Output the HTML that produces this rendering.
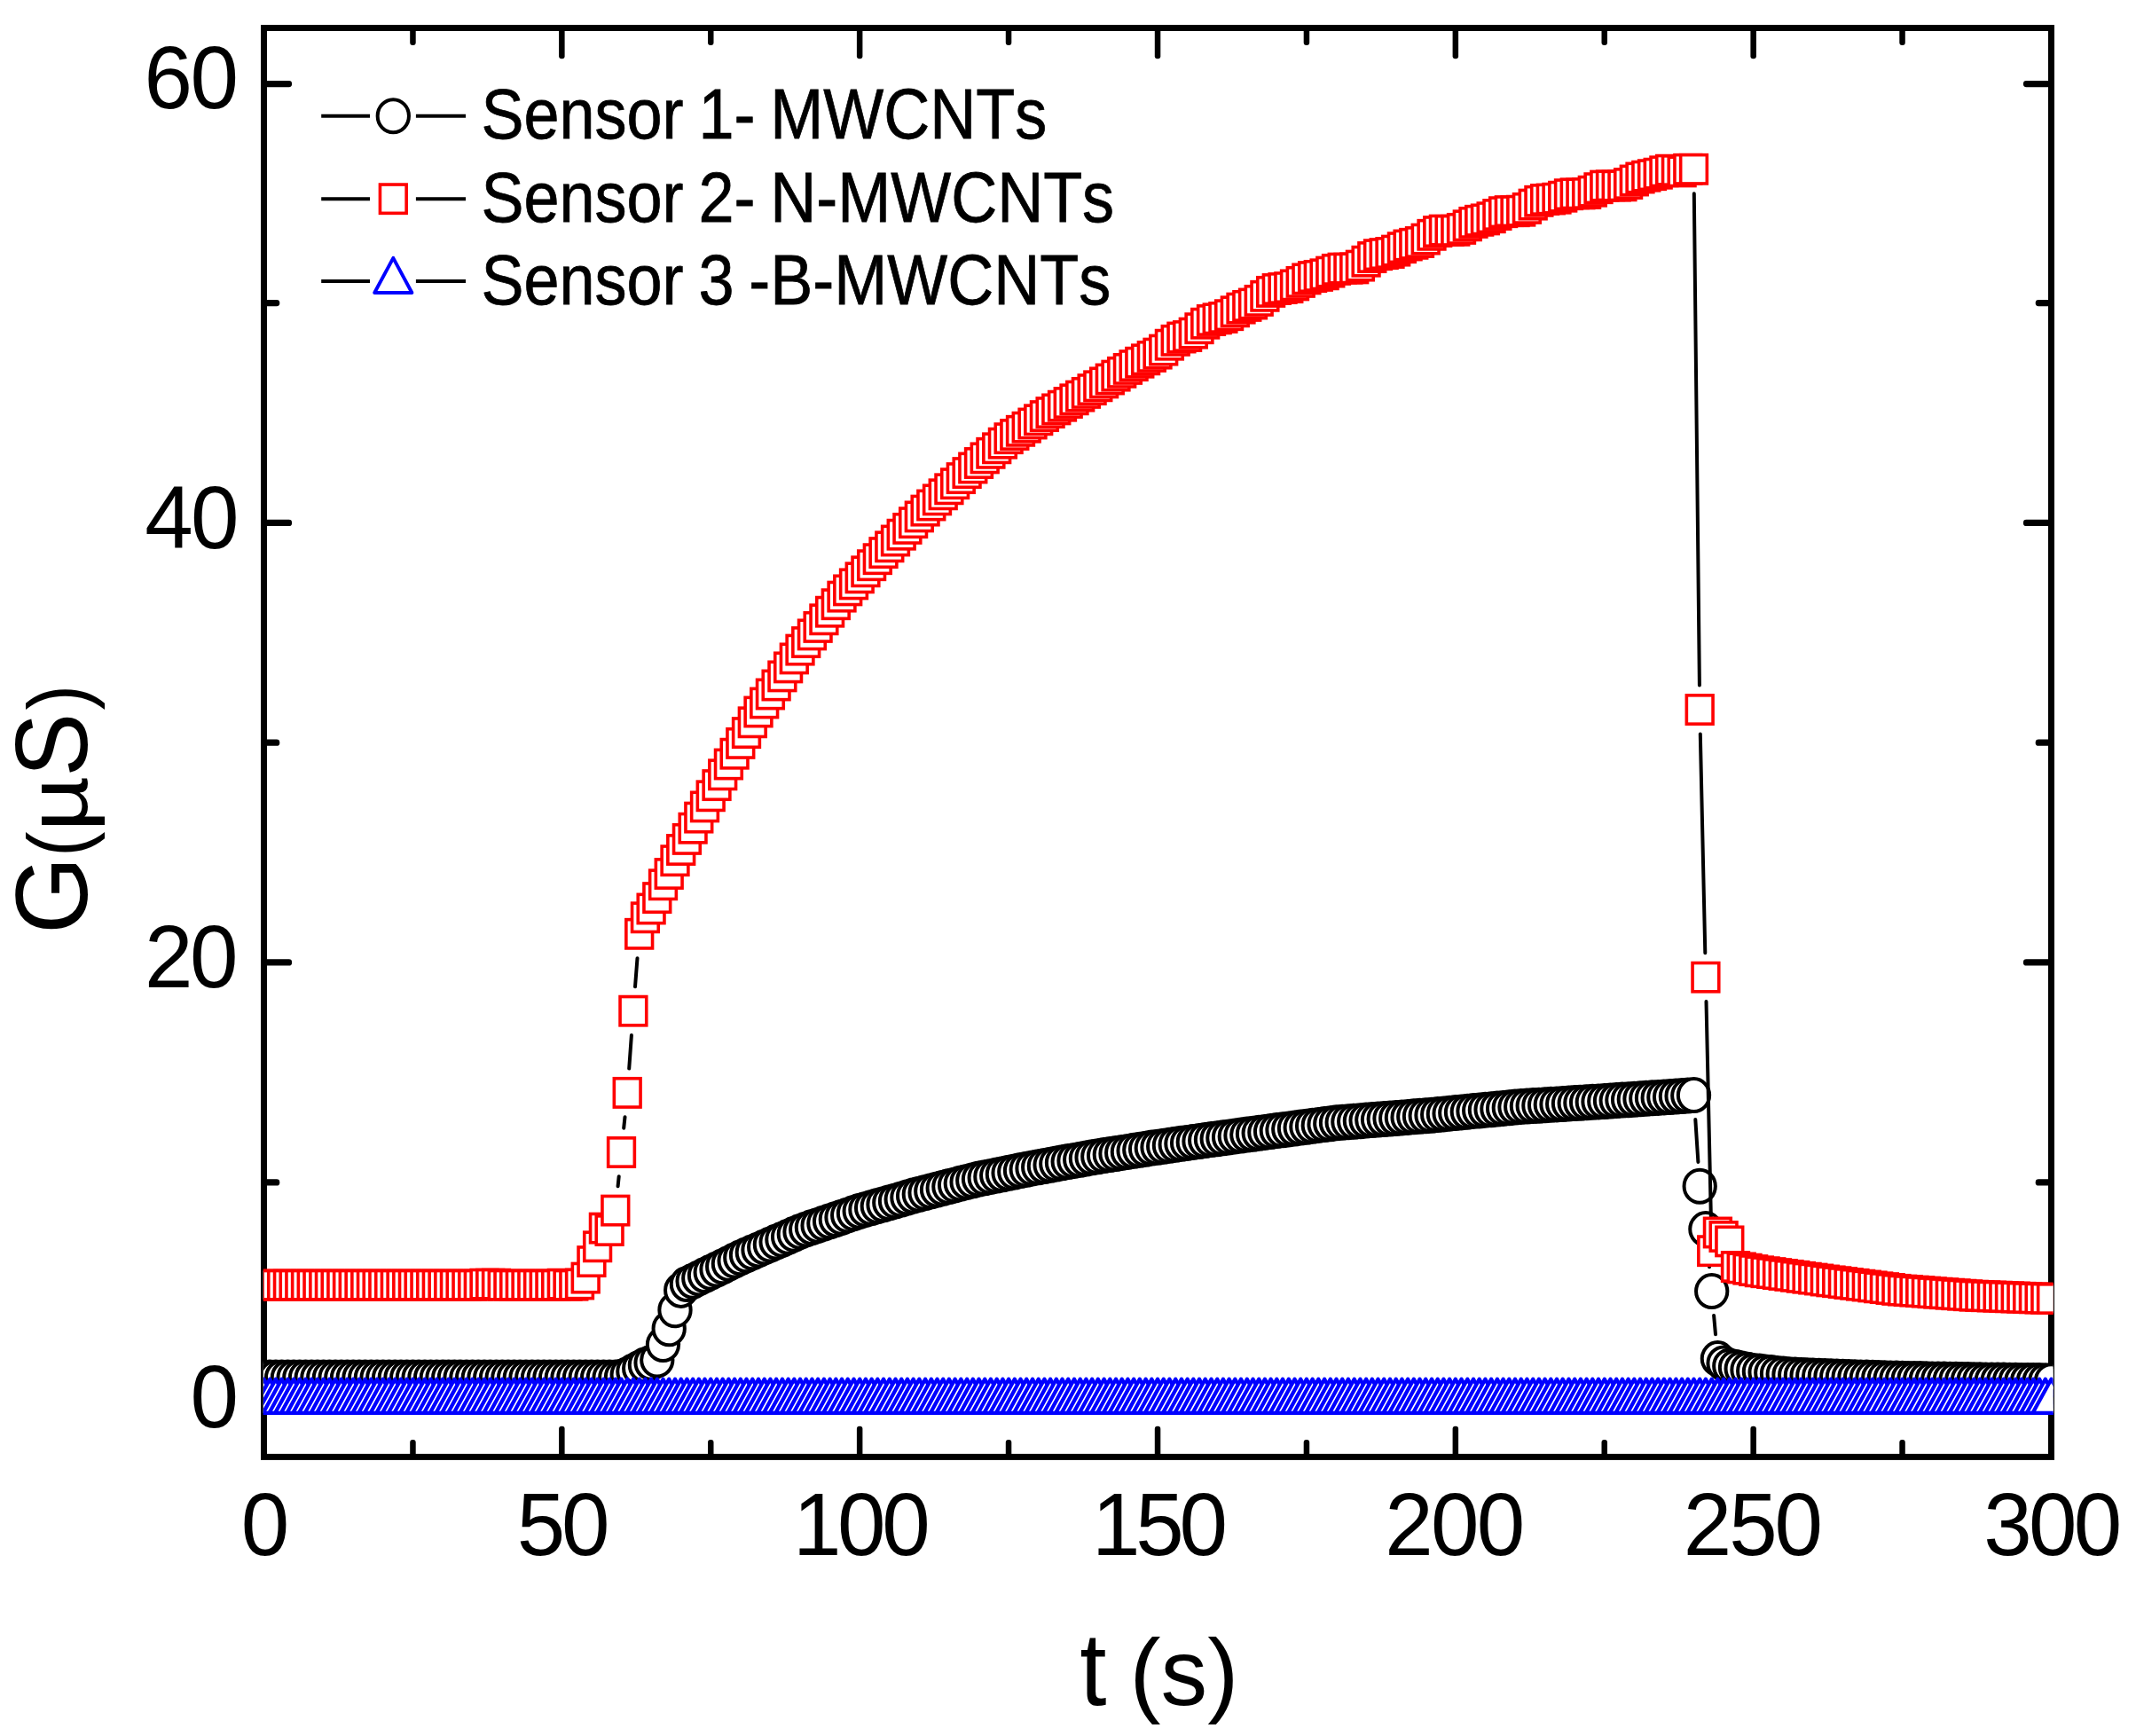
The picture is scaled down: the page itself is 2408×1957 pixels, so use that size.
<!DOCTYPE html>
<html lang="en"><head><meta charset="utf-8"><title>G vs t</title>
<style>html,body{margin:0;padding:0;background:#fff;overflow:hidden}svg{display:block}text{font-family:"Liberation Sans",Arial,sans-serif;fill:#000;font-kerning:none;white-space:pre}</style></head>
<body>
<svg width="2408" height="1957" viewBox="0 0 2408 1957">
<rect width="2408" height="1957" fill="#fff"/>
<defs>
<rect id="sq" x="-14.85" y="-16.15" width="29.7" height="32.3" fill="#fff" stroke="#f00" stroke-width="3.6"/>
<ellipse id="ci" rx="17.65" ry="18.5" fill="#fff" stroke="#000" stroke-width="4"/>
<path id="tr" d="M0 -25.85L20.9 12.2L-20.9 12.2Z" fill="#fff" stroke="#00f" stroke-width="4.3" stroke-linejoin="round"/>
<path id="trl" d="M0 -26.2L21.1 13L-21.1 13Z" fill="#fff" stroke="#00f" stroke-width="3.9" stroke-linejoin="round"/>
<clipPath id="cp"><rect x="296.9" y="31.5" width="2017.6" height="1610.9"/></clipPath>
</defs>
<rect x="297.5" y="31.5" width="2015" height="1610.9" fill="none" stroke="#000" stroke-width="7"/>
<g fill="#000"><rect x="462.2" y="1623" width="6.5" height="19.4" rx="3"/><rect x="462.2" y="31.5" width="6.5" height="19.4" rx="3"/><rect x="630.1" y="1607.7" width="6.5" height="34.7" rx="3"/><rect x="630.1" y="31.5" width="6.5" height="34.7" rx="3"/><rect x="798" y="1623" width="6.5" height="19.4" rx="3"/><rect x="798" y="31.5" width="6.5" height="19.4" rx="3"/><rect x="965.9" y="1607.7" width="6.5" height="34.7" rx="3"/><rect x="965.9" y="31.5" width="6.5" height="34.7" rx="3"/><rect x="1133.8" y="1623" width="6.5" height="19.4" rx="3"/><rect x="1133.8" y="31.5" width="6.5" height="19.4" rx="3"/><rect x="1301.8" y="1607.7" width="6.5" height="34.7" rx="3"/><rect x="1301.8" y="31.5" width="6.5" height="34.7" rx="3"/><rect x="1469.7" y="1623" width="6.5" height="19.4" rx="3"/><rect x="1469.7" y="31.5" width="6.5" height="19.4" rx="3"/><rect x="1637.6" y="1607.7" width="6.5" height="34.7" rx="3"/><rect x="1637.6" y="31.5" width="6.5" height="34.7" rx="3"/><rect x="1805.5" y="1623" width="6.5" height="19.4" rx="3"/><rect x="1805.5" y="31.5" width="6.5" height="19.4" rx="3"/><rect x="1973.4" y="1607.7" width="6.5" height="34.7" rx="3"/><rect x="1973.4" y="31.5" width="6.5" height="34.7" rx="3"/><rect x="2141.3" y="1623" width="6.5" height="19.4" rx="3"/><rect x="2141.3" y="31.5" width="6.5" height="19.4" rx="3"/><rect x="297.5" y="1577" width="31.6" height="7.3" rx="3.4"/><rect x="2280.9" y="1577" width="31.6" height="7.3" rx="3.4"/><rect x="297.5" y="1329.3" width="17.8" height="7.3" rx="3.4"/><rect x="2294.7" y="1329.3" width="17.8" height="7.3" rx="3.4"/><rect x="297.5" y="1081.3" width="31.6" height="7.3" rx="3.4"/><rect x="2280.9" y="1081.3" width="31.6" height="7.3" rx="3.4"/><rect x="297.5" y="833.5" width="17.8" height="7.3" rx="3.4"/><rect x="2294.7" y="833.5" width="17.8" height="7.3" rx="3.4"/><rect x="297.5" y="585.8" width="31.6" height="7.3" rx="3.4"/><rect x="2280.9" y="585.8" width="31.6" height="7.3" rx="3.4"/><rect x="297.5" y="337.9" width="17.8" height="7.3" rx="3.4"/><rect x="2294.7" y="337.9" width="17.8" height="7.3" rx="3.4"/><rect x="297.5" y="90.9" width="31.6" height="7.3" rx="3.4"/><rect x="2280.9" y="90.9" width="31.6" height="7.3" rx="3.4"/></g>
<g clip-path="url(#cp)">
<path d="M1911.3 1262L1914.4 1309.9M1925.5 1412.8L1927 1428.3M1932.1 1482.9L1934 1504.3" stroke="#000" stroke-width="4" fill="none" stroke-linecap="round"/>
<g><use href="#ci" x="297.5" y="1553"/><use href="#ci" x="304.2" y="1553"/><use href="#ci" x="310.9" y="1553"/><use href="#ci" x="317.6" y="1553"/><use href="#ci" x="324.4" y="1553"/><use href="#ci" x="331.1" y="1553"/><use href="#ci" x="337.8" y="1553"/><use href="#ci" x="344.5" y="1553"/><use href="#ci" x="351.2" y="1553"/><use href="#ci" x="357.9" y="1553"/><use href="#ci" x="364.7" y="1553"/><use href="#ci" x="371.4" y="1553"/><use href="#ci" x="378.1" y="1553"/><use href="#ci" x="384.8" y="1553"/><use href="#ci" x="391.5" y="1553"/><use href="#ci" x="398.2" y="1553"/><use href="#ci" x="405" y="1553"/><use href="#ci" x="411.7" y="1553"/><use href="#ci" x="418.4" y="1553"/><use href="#ci" x="425.1" y="1553"/><use href="#ci" x="431.8" y="1553"/><use href="#ci" x="438.6" y="1553"/><use href="#ci" x="445.3" y="1553"/><use href="#ci" x="452" y="1553"/><use href="#ci" x="458.7" y="1553"/><use href="#ci" x="465.4" y="1553"/><use href="#ci" x="472.1" y="1553"/><use href="#ci" x="478.9" y="1553"/><use href="#ci" x="485.6" y="1553"/><use href="#ci" x="492.3" y="1553"/><use href="#ci" x="499" y="1553"/><use href="#ci" x="505.7" y="1553"/><use href="#ci" x="512.4" y="1553"/><use href="#ci" x="519.1" y="1553"/><use href="#ci" x="525.9" y="1553"/><use href="#ci" x="532.6" y="1553"/><use href="#ci" x="539.3" y="1553"/><use href="#ci" x="546" y="1553"/><use href="#ci" x="552.7" y="1553"/><use href="#ci" x="559.5" y="1553"/><use href="#ci" x="566.2" y="1553"/><use href="#ci" x="572.9" y="1553"/><use href="#ci" x="579.6" y="1553"/><use href="#ci" x="586.3" y="1553"/><use href="#ci" x="593" y="1553"/><use href="#ci" x="599.8" y="1553"/><use href="#ci" x="606.5" y="1553"/><use href="#ci" x="613.2" y="1553"/><use href="#ci" x="619.9" y="1553"/><use href="#ci" x="626.6" y="1553"/><use href="#ci" x="633.3" y="1553"/><use href="#ci" x="640" y="1553"/><use href="#ci" x="646.8" y="1553"/><use href="#ci" x="653.5" y="1553"/><use href="#ci" x="660.2" y="1553"/><use href="#ci" x="666.9" y="1553"/><use href="#ci" x="673.6" y="1553"/><use href="#ci" x="680.4" y="1553"/><use href="#ci" x="687.1" y="1553"/><use href="#ci" x="693.8" y="1553"/><use href="#ci" x="700.5" y="1552.3"/><use href="#ci" x="707.2" y="1549.8"/><use href="#ci" x="713.9" y="1546.1"/><use href="#ci" x="720.7" y="1542.4"/><use href="#ci" x="727.4" y="1538.7"/><use href="#ci" x="734.1" y="1536.3"/><use href="#ci" x="740.8" y="1533.1"/><use href="#ci" x="747.5" y="1515.6"/><use href="#ci" x="754.2" y="1497.8"/><use href="#ci" x="761" y="1476.8"/><use href="#ci" x="767.7" y="1454.4"/><use href="#ci" x="774.4" y="1447.5"/><use href="#ci" x="781.1" y="1444.2"/><use href="#ci" x="787.8" y="1440.9"/><use href="#ci" x="794.5" y="1437.6"/><use href="#ci" x="801.2" y="1434.3"/><use href="#ci" x="808" y="1431"/><use href="#ci" x="814.7" y="1427.7"/><use href="#ci" x="821.4" y="1424.4"/><use href="#ci" x="828.1" y="1421.1"/><use href="#ci" x="834.8" y="1417.8"/><use href="#ci" x="841.5" y="1414.7"/><use href="#ci" x="848.3" y="1411.8"/><use href="#ci" x="855" y="1408.9"/><use href="#ci" x="861.7" y="1405.9"/><use href="#ci" x="868.4" y="1403"/><use href="#ci" x="875.1" y="1400.1"/><use href="#ci" x="881.9" y="1397.2"/><use href="#ci" x="888.6" y="1394.3"/><use href="#ci" x="895.3" y="1391.3"/><use href="#ci" x="902" y="1388.4"/><use href="#ci" x="908.7" y="1385.9"/><use href="#ci" x="915.4" y="1383.6"/><use href="#ci" x="922.1" y="1381.4"/><use href="#ci" x="928.9" y="1379.1"/><use href="#ci" x="935.6" y="1376.8"/><use href="#ci" x="942.3" y="1374.5"/><use href="#ci" x="949" y="1372.2"/><use href="#ci" x="955.7" y="1369.9"/><use href="#ci" x="962.5" y="1367.6"/><use href="#ci" x="969.2" y="1365.3"/><use href="#ci" x="975.9" y="1363.4"/><use href="#ci" x="982.6" y="1361.5"/><use href="#ci" x="989.3" y="1359.6"/><use href="#ci" x="996" y="1357.7"/><use href="#ci" x="1002.8" y="1355.8"/><use href="#ci" x="1009.5" y="1353.9"/><use href="#ci" x="1016.2" y="1352"/><use href="#ci" x="1022.9" y="1350"/><use href="#ci" x="1029.6" y="1348.1"/><use href="#ci" x="1036.3" y="1346.2"/><use href="#ci" x="1043.1" y="1344.5"/><use href="#ci" x="1049.8" y="1342.8"/><use href="#ci" x="1056.5" y="1341.1"/><use href="#ci" x="1063.2" y="1339.3"/><use href="#ci" x="1069.9" y="1337.6"/><use href="#ci" x="1076.6" y="1335.9"/><use href="#ci" x="1083.3" y="1334.1"/><use href="#ci" x="1090.1" y="1332.4"/><use href="#ci" x="1096.8" y="1330.7"/><use href="#ci" x="1103.5" y="1329.1"/><use href="#ci" x="1110.2" y="1327.8"/><use href="#ci" x="1116.9" y="1326.4"/><use href="#ci" x="1123.7" y="1325.1"/><use href="#ci" x="1130.4" y="1323.7"/><use href="#ci" x="1137.1" y="1322.3"/><use href="#ci" x="1143.8" y="1321"/><use href="#ci" x="1150.5" y="1319.6"/><use href="#ci" x="1157.2" y="1318.3"/><use href="#ci" x="1164" y="1316.9"/><use href="#ci" x="1170.7" y="1315.7"/><use href="#ci" x="1177.4" y="1314.5"/><use href="#ci" x="1184.1" y="1313.2"/><use href="#ci" x="1190.8" y="1312"/><use href="#ci" x="1197.5" y="1310.8"/><use href="#ci" x="1204.2" y="1309.6"/><use href="#ci" x="1211" y="1308.4"/><use href="#ci" x="1217.7" y="1307.2"/><use href="#ci" x="1224.4" y="1306"/><use href="#ci" x="1231.1" y="1304.8"/><use href="#ci" x="1237.8" y="1303.7"/><use href="#ci" x="1244.6" y="1302.6"/><use href="#ci" x="1251.3" y="1301.6"/><use href="#ci" x="1258" y="1300.5"/><use href="#ci" x="1264.7" y="1299.4"/><use href="#ci" x="1271.4" y="1298.4"/><use href="#ci" x="1278.1" y="1297.3"/><use href="#ci" x="1284.8" y="1296.2"/><use href="#ci" x="1291.6" y="1295.2"/><use href="#ci" x="1298.3" y="1294.1"/><use href="#ci" x="1305" y="1293.2"/><use href="#ci" x="1311.7" y="1292.2"/><use href="#ci" x="1318.4" y="1291.2"/><use href="#ci" x="1325.2" y="1290.3"/><use href="#ci" x="1331.9" y="1289.3"/><use href="#ci" x="1338.6" y="1288.4"/><use href="#ci" x="1345.3" y="1287.4"/><use href="#ci" x="1352" y="1286.5"/><use href="#ci" x="1358.7" y="1285.5"/><use href="#ci" x="1365.5" y="1284.6"/><use href="#ci" x="1372.2" y="1283.7"/><use href="#ci" x="1378.9" y="1282.8"/><use href="#ci" x="1385.6" y="1281.9"/><use href="#ci" x="1392.3" y="1280.9"/><use href="#ci" x="1399" y="1280"/><use href="#ci" x="1405.8" y="1279.1"/><use href="#ci" x="1412.5" y="1278.2"/><use href="#ci" x="1419.2" y="1277.3"/><use href="#ci" x="1425.9" y="1276.4"/><use href="#ci" x="1432.6" y="1275.5"/><use href="#ci" x="1439.3" y="1274.6"/><use href="#ci" x="1446" y="1273.7"/><use href="#ci" x="1452.8" y="1272.9"/><use href="#ci" x="1459.5" y="1272"/><use href="#ci" x="1466.2" y="1271.1"/><use href="#ci" x="1472.9" y="1270.2"/><use href="#ci" x="1479.6" y="1269.3"/><use href="#ci" x="1486.3" y="1268.4"/><use href="#ci" x="1493.1" y="1267.5"/><use href="#ci" x="1499.8" y="1266.7"/><use href="#ci" x="1506.5" y="1265.8"/><use href="#ci" x="1513.2" y="1265.3"/><use href="#ci" x="1519.9" y="1264.8"/><use href="#ci" x="1526.7" y="1264.2"/><use href="#ci" x="1533.4" y="1263.7"/><use href="#ci" x="1540.1" y="1263.1"/><use href="#ci" x="1546.8" y="1262.6"/><use href="#ci" x="1553.5" y="1262.1"/><use href="#ci" x="1560.2" y="1261.5"/><use href="#ci" x="1567" y="1261"/><use href="#ci" x="1573.7" y="1260.5"/><use href="#ci" x="1580.4" y="1259.9"/><use href="#ci" x="1587.1" y="1259.4"/><use href="#ci" x="1593.8" y="1258.8"/><use href="#ci" x="1600.5" y="1258.3"/><use href="#ci" x="1607.2" y="1257.8"/><use href="#ci" x="1614" y="1257.2"/><use href="#ci" x="1620.7" y="1256.5"/><use href="#ci" x="1627.4" y="1255.9"/><use href="#ci" x="1634.1" y="1255.2"/><use href="#ci" x="1640.8" y="1254.6"/><use href="#ci" x="1647.5" y="1253.9"/><use href="#ci" x="1654.3" y="1253.3"/><use href="#ci" x="1661" y="1252.6"/><use href="#ci" x="1667.7" y="1252"/><use href="#ci" x="1674.4" y="1251.3"/><use href="#ci" x="1681.1" y="1250.7"/><use href="#ci" x="1687.9" y="1250"/><use href="#ci" x="1694.6" y="1249.4"/><use href="#ci" x="1701.3" y="1248.7"/><use href="#ci" x="1708" y="1248.1"/><use href="#ci" x="1714.7" y="1247.4"/><use href="#ci" x="1721.4" y="1247"/><use href="#ci" x="1728.2" y="1246.6"/><use href="#ci" x="1734.9" y="1246.2"/><use href="#ci" x="1741.6" y="1245.7"/><use href="#ci" x="1748.3" y="1245.3"/><use href="#ci" x="1755" y="1244.9"/><use href="#ci" x="1761.7" y="1244.5"/><use href="#ci" x="1768.5" y="1244"/><use href="#ci" x="1775.2" y="1243.6"/><use href="#ci" x="1781.9" y="1243.2"/><use href="#ci" x="1788.6" y="1242.7"/><use href="#ci" x="1795.3" y="1242.3"/><use href="#ci" x="1802" y="1241.9"/><use href="#ci" x="1808.8" y="1241.5"/><use href="#ci" x="1815.5" y="1241"/><use href="#ci" x="1822.2" y="1240.6"/><use href="#ci" x="1828.9" y="1240.1"/><use href="#ci" x="1835.6" y="1239.7"/><use href="#ci" x="1842.3" y="1239.2"/><use href="#ci" x="1849" y="1238.8"/><use href="#ci" x="1855.8" y="1238.3"/><use href="#ci" x="1862.5" y="1237.8"/><use href="#ci" x="1869.2" y="1237.4"/><use href="#ci" x="1875.9" y="1236.9"/><use href="#ci" x="1882.6" y="1236.5"/><use href="#ci" x="1889.4" y="1236"/><use href="#ci" x="1896.1" y="1235.5"/><use href="#ci" x="1902.8" y="1235.1"/><use href="#ci" x="1909.5" y="1234.6"/><use href="#ci" x="1916.2" y="1337.2"/><use href="#ci" x="1922.9" y="1385.6"/><use href="#ci" x="1929.7" y="1455.6"/><use href="#ci" x="1936.4" y="1531.6"/><use href="#ci" x="1943.1" y="1537"/><use href="#ci" x="1949.8" y="1540"/><use href="#ci" x="1956.5" y="1541.4"/><use href="#ci" x="1963.2" y="1542.9"/><use href="#ci" x="1970" y="1544.2"/><use href="#ci" x="1976.7" y="1545.4"/><use href="#ci" x="1983.4" y="1546.1"/><use href="#ci" x="1990.1" y="1546.9"/><use href="#ci" x="1996.8" y="1547.6"/><use href="#ci" x="2003.5" y="1548.4"/><use href="#ci" x="2010.2" y="1549.1"/><use href="#ci" x="2017" y="1549.8"/><use href="#ci" x="2023.7" y="1550.1"/><use href="#ci" x="2030.4" y="1550.4"/><use href="#ci" x="2037.1" y="1550.7"/><use href="#ci" x="2043.8" y="1550.9"/><use href="#ci" x="2050.6" y="1551.2"/><use href="#ci" x="2057.3" y="1551.5"/><use href="#ci" x="2064" y="1551.8"/><use href="#ci" x="2070.7" y="1552"/><use href="#ci" x="2077.4" y="1552.3"/><use href="#ci" x="2084.1" y="1552.5"/><use href="#ci" x="2090.9" y="1552.7"/><use href="#ci" x="2097.6" y="1552.9"/><use href="#ci" x="2104.3" y="1553.1"/><use href="#ci" x="2111" y="1553.3"/><use href="#ci" x="2117.7" y="1553.5"/><use href="#ci" x="2124.4" y="1553.7"/><use href="#ci" x="2131.2" y="1553.9"/><use href="#ci" x="2137.9" y="1554.1"/><use href="#ci" x="2144.6" y="1554.3"/><use href="#ci" x="2151.3" y="1554.4"/><use href="#ci" x="2158" y="1554.5"/><use href="#ci" x="2164.7" y="1554.6"/><use href="#ci" x="2171.4" y="1554.7"/><use href="#ci" x="2178.2" y="1554.9"/><use href="#ci" x="2184.9" y="1555"/><use href="#ci" x="2191.6" y="1555.1"/><use href="#ci" x="2198.3" y="1555.2"/><use href="#ci" x="2205" y="1555.3"/><use href="#ci" x="2211.8" y="1555.4"/><use href="#ci" x="2218.5" y="1555.5"/><use href="#ci" x="2225.2" y="1555.7"/><use href="#ci" x="2231.9" y="1555.8"/><use href="#ci" x="2238.6" y="1555.9"/><use href="#ci" x="2245.3" y="1556"/><use href="#ci" x="2252.1" y="1556.1"/><use href="#ci" x="2258.8" y="1556.1"/><use href="#ci" x="2265.5" y="1556.2"/><use href="#ci" x="2272.2" y="1556.3"/><use href="#ci" x="2278.9" y="1556.4"/><use href="#ci" x="2285.6" y="1556.4"/><use href="#ci" x="2292.4" y="1556.5"/><use href="#ci" x="2299.1" y="1556.6"/><use href="#ci" x="2305.8" y="1556.7"/><use href="#ci" x="2312.5" y="1556.7"/></g>
<path d="M696.6 1337.3L697.7 1326.2M703.2 1271.7L704.5 1259.2M709.2 1204.6L711.9 1167M716 1112.3L718.5 1080.2M1909.8 218.2L1915.9 772.6M1916.8 827.4L1922.3 1074.3M1923.5 1129.1L1929.1 1382.8" stroke="#000" stroke-width="4" fill="none" stroke-linecap="round"/>
<g><use href="#sq" x="297.5" y="1448.7"/><use href="#sq" x="304.2" y="1448.7"/><use href="#sq" x="310.9" y="1448.7"/><use href="#sq" x="317.6" y="1448.7"/><use href="#sq" x="324.4" y="1448.7"/><use href="#sq" x="331.1" y="1448.7"/><use href="#sq" x="337.8" y="1448.7"/><use href="#sq" x="344.5" y="1448.7"/><use href="#sq" x="351.2" y="1448.7"/><use href="#sq" x="357.9" y="1448.7"/><use href="#sq" x="364.7" y="1448.7"/><use href="#sq" x="371.4" y="1448.7"/><use href="#sq" x="378.1" y="1448.7"/><use href="#sq" x="384.8" y="1448.7"/><use href="#sq" x="391.5" y="1448.7"/><use href="#sq" x="398.2" y="1448.7"/><use href="#sq" x="405" y="1448.7"/><use href="#sq" x="411.7" y="1448.7"/><use href="#sq" x="418.4" y="1448.7"/><use href="#sq" x="425.1" y="1448.7"/><use href="#sq" x="431.8" y="1448.7"/><use href="#sq" x="438.6" y="1448.7"/><use href="#sq" x="445.3" y="1448.7"/><use href="#sq" x="452" y="1448.7"/><use href="#sq" x="458.7" y="1448.7"/><use href="#sq" x="465.4" y="1448.7"/><use href="#sq" x="472.1" y="1448.7"/><use href="#sq" x="478.9" y="1448.7"/><use href="#sq" x="485.6" y="1448.7"/><use href="#sq" x="492.3" y="1448.7"/><use href="#sq" x="499" y="1448.7"/><use href="#sq" x="505.7" y="1448.7"/><use href="#sq" x="512.4" y="1448.7"/><use href="#sq" x="519.1" y="1448.7"/><use href="#sq" x="525.9" y="1448.7"/><use href="#sq" x="532.6" y="1448.7"/><use href="#sq" x="539.3" y="1448.7"/><use href="#sq" x="546" y="1447.7"/><use href="#sq" x="552.7" y="1447.7"/><use href="#sq" x="559.5" y="1447.7"/><use href="#sq" x="566.2" y="1448.7"/><use href="#sq" x="572.9" y="1448.7"/><use href="#sq" x="579.6" y="1448.7"/><use href="#sq" x="586.3" y="1448.7"/><use href="#sq" x="593" y="1448.7"/><use href="#sq" x="599.8" y="1448.7"/><use href="#sq" x="606.5" y="1448.7"/><use href="#sq" x="613.2" y="1448.7"/><use href="#sq" x="619.9" y="1448.7"/><use href="#sq" x="626.6" y="1448.7"/><use href="#sq" x="633.3" y="1447.7"/><use href="#sq" x="640" y="1448.7"/><use href="#sq" x="646.8" y="1448.7"/><use href="#sq" x="653.5" y="1447.5"/><use href="#sq" x="660.2" y="1440.6"/><use href="#sq" x="666.9" y="1422.1"/><use href="#sq" x="673.6" y="1405.3"/><use href="#sq" x="680.4" y="1384.6"/><use href="#sq" x="687.1" y="1387"/><use href="#sq" x="693.8" y="1364.6"/><use href="#sq" x="700.5" y="1299"/><use href="#sq" x="707.2" y="1231.9"/><use href="#sq" x="713.9" y="1139.7"/><use href="#sq" x="720.7" y="1052.8"/><use href="#sq" x="727.4" y="1034.3"/><use href="#sq" x="734.1" y="1024.5"/><use href="#sq" x="740.8" y="1012.1"/><use href="#sq" x="747.5" y="997.3"/><use href="#sq" x="754.2" y="985"/><use href="#sq" x="761" y="970.2"/><use href="#sq" x="767.7" y="958"/><use href="#sq" x="774.4" y="945.9"/><use href="#sq" x="781.1" y="933.7"/><use href="#sq" x="787.8" y="921.6"/><use href="#sq" x="794.5" y="909.4"/><use href="#sq" x="801.2" y="897.3"/><use href="#sq" x="808" y="885.1"/><use href="#sq" x="814.7" y="873.3"/><use href="#sq" x="821.4" y="861.5"/><use href="#sq" x="828.1" y="849.7"/><use href="#sq" x="834.8" y="837.9"/><use href="#sq" x="841.5" y="826.1"/><use href="#sq" x="848.3" y="814.3"/><use href="#sq" x="855" y="802.5"/><use href="#sq" x="861.7" y="792.5"/><use href="#sq" x="868.4" y="782.5"/><use href="#sq" x="875.1" y="772.5"/><use href="#sq" x="881.9" y="762.4"/><use href="#sq" x="888.6" y="752.4"/><use href="#sq" x="895.3" y="742.4"/><use href="#sq" x="902" y="732.6"/><use href="#sq" x="908.7" y="724"/><use href="#sq" x="915.4" y="715.4"/><use href="#sq" x="922.1" y="706.9"/><use href="#sq" x="928.9" y="698.3"/><use href="#sq" x="935.6" y="689.7"/><use href="#sq" x="942.3" y="681.2"/><use href="#sq" x="949" y="672.6"/><use href="#sq" x="955.7" y="665.4"/><use href="#sq" x="962.5" y="658.4"/><use href="#sq" x="969.2" y="651.3"/><use href="#sq" x="975.9" y="644.3"/><use href="#sq" x="982.6" y="637.2"/><use href="#sq" x="989.3" y="630.2"/><use href="#sq" x="996" y="623.1"/><use href="#sq" x="1002.8" y="616.3"/><use href="#sq" x="1009.5" y="609.5"/><use href="#sq" x="1016.2" y="602.7"/><use href="#sq" x="1022.9" y="595.9"/><use href="#sq" x="1029.6" y="589.2"/><use href="#sq" x="1036.3" y="582.4"/><use href="#sq" x="1043.1" y="575.6"/><use href="#sq" x="1049.8" y="569.5"/><use href="#sq" x="1056.5" y="563.4"/><use href="#sq" x="1063.2" y="557.3"/><use href="#sq" x="1069.9" y="551.3"/><use href="#sq" x="1076.6" y="545.2"/><use href="#sq" x="1083.3" y="539.1"/><use href="#sq" x="1090.1" y="533.1"/><use href="#sq" x="1096.8" y="527.5"/><use href="#sq" x="1103.5" y="522"/><use href="#sq" x="1110.2" y="516.4"/><use href="#sq" x="1116.9" y="510.8"/><use href="#sq" x="1123.7" y="505.3"/><use href="#sq" x="1130.4" y="499.7"/><use href="#sq" x="1137.1" y="494.2"/><use href="#sq" x="1143.8" y="490"/><use href="#sq" x="1150.5" y="485.8"/><use href="#sq" x="1157.2" y="481.7"/><use href="#sq" x="1164" y="477.5"/><use href="#sq" x="1170.7" y="473.3"/><use href="#sq" x="1177.4" y="469.1"/><use href="#sq" x="1184.1" y="465.1"/><use href="#sq" x="1190.8" y="461.4"/><use href="#sq" x="1197.5" y="457.7"/><use href="#sq" x="1204.2" y="454"/><use href="#sq" x="1211" y="450.3"/><use href="#sq" x="1217.7" y="446.6"/><use href="#sq" x="1224.4" y="442.9"/><use href="#sq" x="1231.1" y="439.1"/><use href="#sq" x="1237.8" y="435.3"/><use href="#sq" x="1244.6" y="431.4"/><use href="#sq" x="1251.3" y="427.5"/><use href="#sq" x="1258" y="423.6"/><use href="#sq" x="1264.7" y="419.8"/><use href="#sq" x="1271.4" y="415.9"/><use href="#sq" x="1278.1" y="412.1"/><use href="#sq" x="1284.8" y="408.7"/><use href="#sq" x="1291.6" y="405.3"/><use href="#sq" x="1298.3" y="401.9"/><use href="#sq" x="1305" y="398.6"/><use href="#sq" x="1311.7" y="394.6"/><use href="#sq" x="1318.4" y="388.7"/><use href="#sq" x="1325.2" y="383.8"/><use href="#sq" x="1331.9" y="380.5"/><use href="#sq" x="1338.6" y="379"/><use href="#sq" x="1345.3" y="375.6"/><use href="#sq" x="1352" y="370.2"/><use href="#sq" x="1358.7" y="364.7"/><use href="#sq" x="1365.5" y="361"/><use href="#sq" x="1372.2" y="359.3"/><use href="#sq" x="1378.9" y="357.9"/><use href="#sq" x="1385.6" y="355.2"/><use href="#sq" x="1392.3" y="351.3"/><use href="#sq" x="1399" y="347.6"/><use href="#sq" x="1405.8" y="344.9"/><use href="#sq" x="1412.5" y="342.5"/><use href="#sq" x="1419.2" y="338.9"/><use href="#sq" x="1425.9" y="333.8"/><use href="#sq" x="1432.6" y="328.9"/><use href="#sq" x="1439.3" y="326"/><use href="#sq" x="1446" y="325"/><use href="#sq" x="1452.8" y="324.1"/><use href="#sq" x="1459.5" y="321.4"/><use href="#sq" x="1466.2" y="317.9"/><use href="#sq" x="1472.9" y="314.4"/><use href="#sq" x="1479.6" y="312.1"/><use href="#sq" x="1486.3" y="310.9"/><use href="#sq" x="1493.1" y="309.3"/><use href="#sq" x="1499.8" y="306.6"/><use href="#sq" x="1506.5" y="303.9"/><use href="#sq" x="1513.2" y="302.6"/><use href="#sq" x="1519.9" y="302.7"/><use href="#sq" x="1526.7" y="302.4"/><use href="#sq" x="1533.4" y="299.6"/><use href="#sq" x="1540.1" y="294.7"/><use href="#sq" x="1546.8" y="290"/><use href="#sq" x="1553.5" y="287.2"/><use href="#sq" x="1560.2" y="286.1"/><use href="#sq" x="1567" y="285"/><use href="#sq" x="1573.7" y="282.6"/><use href="#sq" x="1580.4" y="279.2"/><use href="#sq" x="1587.1" y="276.5"/><use href="#sq" x="1593.8" y="274.8"/><use href="#sq" x="1600.5" y="273"/><use href="#sq" x="1607.2" y="269.6"/><use href="#sq" x="1614" y="264.8"/><use href="#sq" x="1620.7" y="261.1"/><use href="#sq" x="1627.4" y="259.6"/><use href="#sq" x="1634.1" y="259.9"/><use href="#sq" x="1640.8" y="259.8"/><use href="#sq" x="1647.5" y="257.9"/><use href="#sq" x="1654.3" y="254.3"/><use href="#sq" x="1661" y="250.9"/><use href="#sq" x="1667.7" y="248.8"/><use href="#sq" x="1674.4" y="247.4"/><use href="#sq" x="1681.1" y="245.2"/><use href="#sq" x="1687.9" y="242"/><use href="#sq" x="1694.6" y="239.2"/><use href="#sq" x="1701.3" y="238.1"/><use href="#sq" x="1708" y="238.2"/><use href="#sq" x="1714.7" y="237.7"/><use href="#sq" x="1721.4" y="234.9"/><use href="#sq" x="1728.2" y="230.6"/><use href="#sq" x="1734.9" y="226.8"/><use href="#sq" x="1741.6" y="225"/><use href="#sq" x="1748.3" y="224.5"/><use href="#sq" x="1755" y="223.7"/><use href="#sq" x="1761.7" y="221.7"/><use href="#sq" x="1768.5" y="219.2"/><use href="#sq" x="1775.2" y="218.3"/><use href="#sq" x="1781.9" y="218.4"/><use href="#sq" x="1788.6" y="218"/><use href="#sq" x="1795.3" y="215.7"/><use href="#sq" x="1802" y="212.2"/><use href="#sq" x="1808.8" y="209.6"/><use href="#sq" x="1815.5" y="209.3"/><use href="#sq" x="1822.2" y="209.6"/><use href="#sq" x="1828.9" y="209.3"/><use href="#sq" x="1835.6" y="207"/><use href="#sq" x="1842.3" y="203.5"/><use href="#sq" x="1849" y="200.5"/><use href="#sq" x="1855.8" y="198.7"/><use href="#sq" x="1862.5" y="197.2"/><use href="#sq" x="1869.2" y="195.7"/><use href="#sq" x="1875.9" y="193.3"/><use href="#sq" x="1882.6" y="191.7"/><use href="#sq" x="1889.4" y="192"/><use href="#sq" x="1896.1" y="193.4"/><use href="#sq" x="1902.8" y="190.8"/><use href="#sq" x="1909.5" y="190.8"/><use href="#sq" x="1916.2" y="800"/><use href="#sq" x="1922.9" y="1101.7"/><use href="#sq" x="1929.7" y="1410.2"/><use href="#sq" x="1936.4" y="1389.5"/><use href="#sq" x="1943.1" y="1394"/><use href="#sq" x="1949.8" y="1399.4"/><use href="#sq" x="1956.5" y="1428"/><use href="#sq" x="1963.2" y="1429.4"/><use href="#sq" x="1970" y="1430.7"/><use href="#sq" x="1976.7" y="1432.1"/><use href="#sq" x="1983.4" y="1433.3"/><use href="#sq" x="1990.1" y="1434.2"/><use href="#sq" x="1996.8" y="1435.1"/><use href="#sq" x="2003.5" y="1436.1"/><use href="#sq" x="2010.2" y="1437"/><use href="#sq" x="2017" y="1437.9"/><use href="#sq" x="2023.7" y="1438.8"/><use href="#sq" x="2030.4" y="1439.8"/><use href="#sq" x="2037.1" y="1440.7"/><use href="#sq" x="2043.8" y="1441.6"/><use href="#sq" x="2050.6" y="1442.5"/><use href="#sq" x="2057.3" y="1443.5"/><use href="#sq" x="2064" y="1444.4"/><use href="#sq" x="2070.7" y="1445.2"/><use href="#sq" x="2077.4" y="1446.1"/><use href="#sq" x="2084.1" y="1447"/><use href="#sq" x="2090.9" y="1447.8"/><use href="#sq" x="2097.6" y="1448.7"/><use href="#sq" x="2104.3" y="1449.5"/><use href="#sq" x="2111" y="1450.4"/><use href="#sq" x="2117.7" y="1451.3"/><use href="#sq" x="2124.4" y="1452.1"/><use href="#sq" x="2131.2" y="1453"/><use href="#sq" x="2137.9" y="1453.9"/><use href="#sq" x="2144.6" y="1454.6"/><use href="#sq" x="2151.3" y="1455.1"/><use href="#sq" x="2158" y="1455.6"/><use href="#sq" x="2164.7" y="1456.1"/><use href="#sq" x="2171.4" y="1456.6"/><use href="#sq" x="2178.2" y="1457.2"/><use href="#sq" x="2184.9" y="1457.7"/><use href="#sq" x="2191.6" y="1458.2"/><use href="#sq" x="2198.3" y="1458.7"/><use href="#sq" x="2205" y="1459.2"/><use href="#sq" x="2211.8" y="1459.7"/><use href="#sq" x="2218.5" y="1460.2"/><use href="#sq" x="2225.2" y="1460.7"/><use href="#sq" x="2231.9" y="1460.9"/><use href="#sq" x="2238.6" y="1461.2"/><use href="#sq" x="2245.3" y="1461.5"/><use href="#sq" x="2252.1" y="1461.7"/><use href="#sq" x="2258.8" y="1462"/><use href="#sq" x="2265.5" y="1462.3"/><use href="#sq" x="2272.2" y="1462.5"/><use href="#sq" x="2278.9" y="1462.8"/><use href="#sq" x="2285.6" y="1463.1"/><use href="#sq" x="2292.4" y="1463.3"/><use href="#sq" x="2299.1" y="1463.6"/><use href="#sq" x="2305.8" y="1463.8"/><use href="#sq" x="2312.5" y="1464"/></g>
<g><use href="#tr" x="297.5" y="1580.6"/><use href="#tr" x="304.2" y="1580.6"/><use href="#tr" x="310.9" y="1580.6"/><use href="#tr" x="317.6" y="1580.6"/><use href="#tr" x="324.4" y="1580.6"/><use href="#tr" x="331.1" y="1580.6"/><use href="#tr" x="337.8" y="1580.6"/><use href="#tr" x="344.5" y="1580.6"/><use href="#tr" x="351.2" y="1580.6"/><use href="#tr" x="357.9" y="1580.6"/><use href="#tr" x="364.7" y="1580.6"/><use href="#tr" x="371.4" y="1580.6"/><use href="#tr" x="378.1" y="1580.6"/><use href="#tr" x="384.8" y="1580.6"/><use href="#tr" x="391.5" y="1580.6"/><use href="#tr" x="398.2" y="1580.6"/><use href="#tr" x="405" y="1580.6"/><use href="#tr" x="411.7" y="1580.6"/><use href="#tr" x="418.4" y="1580.6"/><use href="#tr" x="425.1" y="1580.6"/><use href="#tr" x="431.8" y="1580.6"/><use href="#tr" x="438.6" y="1580.6"/><use href="#tr" x="445.3" y="1580.6"/><use href="#tr" x="452" y="1580.6"/><use href="#tr" x="458.7" y="1580.6"/><use href="#tr" x="465.4" y="1580.6"/><use href="#tr" x="472.1" y="1580.6"/><use href="#tr" x="478.9" y="1580.6"/><use href="#tr" x="485.6" y="1580.6"/><use href="#tr" x="492.3" y="1580.6"/><use href="#tr" x="499" y="1580.6"/><use href="#tr" x="505.7" y="1580.6"/><use href="#tr" x="512.4" y="1580.6"/><use href="#tr" x="519.1" y="1580.6"/><use href="#tr" x="525.9" y="1580.6"/><use href="#tr" x="532.6" y="1580.6"/><use href="#tr" x="539.3" y="1580.6"/><use href="#tr" x="546" y="1580.6"/><use href="#tr" x="552.7" y="1580.6"/><use href="#tr" x="559.5" y="1580.6"/><use href="#tr" x="566.2" y="1580.6"/><use href="#tr" x="572.9" y="1580.6"/><use href="#tr" x="579.6" y="1580.6"/><use href="#tr" x="586.3" y="1580.6"/><use href="#tr" x="593" y="1580.6"/><use href="#tr" x="599.8" y="1580.6"/><use href="#tr" x="606.5" y="1580.6"/><use href="#tr" x="613.2" y="1580.6"/><use href="#tr" x="619.9" y="1580.6"/><use href="#tr" x="626.6" y="1580.6"/><use href="#tr" x="633.3" y="1580.6"/><use href="#tr" x="640" y="1580.6"/><use href="#tr" x="646.8" y="1580.6"/><use href="#tr" x="653.5" y="1580.6"/><use href="#tr" x="660.2" y="1580.6"/><use href="#tr" x="666.9" y="1580.6"/><use href="#tr" x="673.6" y="1580.6"/><use href="#tr" x="680.4" y="1580.6"/><use href="#tr" x="687.1" y="1580.6"/><use href="#tr" x="693.8" y="1580.6"/><use href="#tr" x="700.5" y="1580.6"/><use href="#tr" x="707.2" y="1580.6"/><use href="#tr" x="713.9" y="1580.6"/><use href="#tr" x="720.7" y="1580.6"/><use href="#tr" x="727.4" y="1580.6"/><use href="#tr" x="734.1" y="1580.6"/><use href="#tr" x="740.8" y="1580.6"/><use href="#tr" x="747.5" y="1580.6"/><use href="#tr" x="754.2" y="1580.6"/><use href="#tr" x="761" y="1580.6"/><use href="#tr" x="767.7" y="1580.6"/><use href="#tr" x="774.4" y="1580.6"/><use href="#tr" x="781.1" y="1580.6"/><use href="#tr" x="787.8" y="1580.6"/><use href="#tr" x="794.5" y="1580.6"/><use href="#tr" x="801.2" y="1580.6"/><use href="#tr" x="808" y="1580.6"/><use href="#tr" x="814.7" y="1580.6"/><use href="#tr" x="821.4" y="1580.6"/><use href="#tr" x="828.1" y="1580.6"/><use href="#tr" x="834.8" y="1580.6"/><use href="#tr" x="841.5" y="1580.6"/><use href="#tr" x="848.3" y="1580.6"/><use href="#tr" x="855" y="1580.6"/><use href="#tr" x="861.7" y="1580.6"/><use href="#tr" x="868.4" y="1580.6"/><use href="#tr" x="875.1" y="1580.6"/><use href="#tr" x="881.9" y="1580.6"/><use href="#tr" x="888.6" y="1580.6"/><use href="#tr" x="895.3" y="1580.6"/><use href="#tr" x="902" y="1580.6"/><use href="#tr" x="908.7" y="1580.6"/><use href="#tr" x="915.4" y="1580.6"/><use href="#tr" x="922.1" y="1580.6"/><use href="#tr" x="928.9" y="1580.6"/><use href="#tr" x="935.6" y="1580.6"/><use href="#tr" x="942.3" y="1580.6"/><use href="#tr" x="949" y="1580.6"/><use href="#tr" x="955.7" y="1580.6"/><use href="#tr" x="962.5" y="1580.6"/><use href="#tr" x="969.2" y="1580.6"/><use href="#tr" x="975.9" y="1580.6"/><use href="#tr" x="982.6" y="1580.6"/><use href="#tr" x="989.3" y="1580.6"/><use href="#tr" x="996" y="1580.6"/><use href="#tr" x="1002.8" y="1580.6"/><use href="#tr" x="1009.5" y="1580.6"/><use href="#tr" x="1016.2" y="1580.6"/><use href="#tr" x="1022.9" y="1580.6"/><use href="#tr" x="1029.6" y="1580.6"/><use href="#tr" x="1036.3" y="1580.6"/><use href="#tr" x="1043.1" y="1580.6"/><use href="#tr" x="1049.8" y="1580.6"/><use href="#tr" x="1056.5" y="1580.6"/><use href="#tr" x="1063.2" y="1580.6"/><use href="#tr" x="1069.9" y="1580.6"/><use href="#tr" x="1076.6" y="1580.6"/><use href="#tr" x="1083.3" y="1580.6"/><use href="#tr" x="1090.1" y="1580.6"/><use href="#tr" x="1096.8" y="1580.6"/><use href="#tr" x="1103.5" y="1580.6"/><use href="#tr" x="1110.2" y="1580.6"/><use href="#tr" x="1116.9" y="1580.6"/><use href="#tr" x="1123.7" y="1580.6"/><use href="#tr" x="1130.4" y="1580.6"/><use href="#tr" x="1137.1" y="1580.6"/><use href="#tr" x="1143.8" y="1580.6"/><use href="#tr" x="1150.5" y="1580.6"/><use href="#tr" x="1157.2" y="1580.6"/><use href="#tr" x="1164" y="1580.6"/><use href="#tr" x="1170.7" y="1580.6"/><use href="#tr" x="1177.4" y="1580.6"/><use href="#tr" x="1184.1" y="1580.6"/><use href="#tr" x="1190.8" y="1580.6"/><use href="#tr" x="1197.5" y="1580.6"/><use href="#tr" x="1204.2" y="1580.6"/><use href="#tr" x="1211" y="1580.6"/><use href="#tr" x="1217.7" y="1580.6"/><use href="#tr" x="1224.4" y="1580.6"/><use href="#tr" x="1231.1" y="1580.6"/><use href="#tr" x="1237.8" y="1580.6"/><use href="#tr" x="1244.6" y="1580.6"/><use href="#tr" x="1251.3" y="1580.6"/><use href="#tr" x="1258" y="1580.6"/><use href="#tr" x="1264.7" y="1580.6"/><use href="#tr" x="1271.4" y="1580.6"/><use href="#tr" x="1278.1" y="1580.6"/><use href="#tr" x="1284.8" y="1580.6"/><use href="#tr" x="1291.6" y="1580.6"/><use href="#tr" x="1298.3" y="1580.6"/><use href="#tr" x="1305" y="1580.6"/><use href="#tr" x="1311.7" y="1580.6"/><use href="#tr" x="1318.4" y="1580.6"/><use href="#tr" x="1325.2" y="1580.6"/><use href="#tr" x="1331.9" y="1580.6"/><use href="#tr" x="1338.6" y="1580.6"/><use href="#tr" x="1345.3" y="1580.6"/><use href="#tr" x="1352" y="1580.6"/><use href="#tr" x="1358.7" y="1580.6"/><use href="#tr" x="1365.5" y="1580.6"/><use href="#tr" x="1372.2" y="1580.6"/><use href="#tr" x="1378.9" y="1580.6"/><use href="#tr" x="1385.6" y="1580.6"/><use href="#tr" x="1392.3" y="1580.6"/><use href="#tr" x="1399" y="1580.6"/><use href="#tr" x="1405.8" y="1580.6"/><use href="#tr" x="1412.5" y="1580.6"/><use href="#tr" x="1419.2" y="1580.6"/><use href="#tr" x="1425.9" y="1580.6"/><use href="#tr" x="1432.6" y="1580.6"/><use href="#tr" x="1439.3" y="1580.6"/><use href="#tr" x="1446" y="1580.6"/><use href="#tr" x="1452.8" y="1580.6"/><use href="#tr" x="1459.5" y="1580.6"/><use href="#tr" x="1466.2" y="1580.6"/><use href="#tr" x="1472.9" y="1580.6"/><use href="#tr" x="1479.6" y="1580.6"/><use href="#tr" x="1486.3" y="1580.6"/><use href="#tr" x="1493.1" y="1580.6"/><use href="#tr" x="1499.8" y="1580.6"/><use href="#tr" x="1506.5" y="1580.6"/><use href="#tr" x="1513.2" y="1580.6"/><use href="#tr" x="1519.9" y="1580.6"/><use href="#tr" x="1526.7" y="1580.6"/><use href="#tr" x="1533.4" y="1580.6"/><use href="#tr" x="1540.1" y="1580.6"/><use href="#tr" x="1546.8" y="1580.6"/><use href="#tr" x="1553.5" y="1580.6"/><use href="#tr" x="1560.2" y="1580.6"/><use href="#tr" x="1567" y="1580.6"/><use href="#tr" x="1573.7" y="1580.6"/><use href="#tr" x="1580.4" y="1580.6"/><use href="#tr" x="1587.1" y="1580.6"/><use href="#tr" x="1593.8" y="1580.6"/><use href="#tr" x="1600.5" y="1580.6"/><use href="#tr" x="1607.2" y="1580.6"/><use href="#tr" x="1614" y="1580.6"/><use href="#tr" x="1620.7" y="1580.6"/><use href="#tr" x="1627.4" y="1580.6"/><use href="#tr" x="1634.1" y="1580.6"/><use href="#tr" x="1640.8" y="1580.6"/><use href="#tr" x="1647.5" y="1580.6"/><use href="#tr" x="1654.3" y="1580.6"/><use href="#tr" x="1661" y="1580.6"/><use href="#tr" x="1667.7" y="1580.6"/><use href="#tr" x="1674.4" y="1580.6"/><use href="#tr" x="1681.1" y="1580.6"/><use href="#tr" x="1687.9" y="1580.6"/><use href="#tr" x="1694.6" y="1580.6"/><use href="#tr" x="1701.3" y="1580.6"/><use href="#tr" x="1708" y="1580.6"/><use href="#tr" x="1714.7" y="1580.6"/><use href="#tr" x="1721.4" y="1580.6"/><use href="#tr" x="1728.2" y="1580.6"/><use href="#tr" x="1734.9" y="1580.6"/><use href="#tr" x="1741.6" y="1580.6"/><use href="#tr" x="1748.3" y="1580.6"/><use href="#tr" x="1755" y="1580.6"/><use href="#tr" x="1761.7" y="1580.6"/><use href="#tr" x="1768.5" y="1580.6"/><use href="#tr" x="1775.2" y="1580.6"/><use href="#tr" x="1781.9" y="1580.6"/><use href="#tr" x="1788.6" y="1580.6"/><use href="#tr" x="1795.3" y="1580.6"/><use href="#tr" x="1802" y="1580.6"/><use href="#tr" x="1808.8" y="1580.6"/><use href="#tr" x="1815.5" y="1580.6"/><use href="#tr" x="1822.2" y="1580.6"/><use href="#tr" x="1828.9" y="1580.6"/><use href="#tr" x="1835.6" y="1580.6"/><use href="#tr" x="1842.3" y="1580.6"/><use href="#tr" x="1849" y="1580.6"/><use href="#tr" x="1855.8" y="1580.6"/><use href="#tr" x="1862.5" y="1580.6"/><use href="#tr" x="1869.2" y="1580.6"/><use href="#tr" x="1875.9" y="1580.6"/><use href="#tr" x="1882.6" y="1580.6"/><use href="#tr" x="1889.4" y="1580.6"/><use href="#tr" x="1896.1" y="1580.6"/><use href="#tr" x="1902.8" y="1580.6"/><use href="#tr" x="1909.5" y="1580.6"/><use href="#tr" x="1916.2" y="1580.6"/><use href="#tr" x="1922.9" y="1580.6"/><use href="#tr" x="1929.7" y="1580.6"/><use href="#tr" x="1936.4" y="1580.6"/><use href="#tr" x="1943.1" y="1580.6"/><use href="#tr" x="1949.8" y="1580.6"/><use href="#tr" x="1956.5" y="1580.6"/><use href="#tr" x="1963.2" y="1580.6"/><use href="#tr" x="1970" y="1580.6"/><use href="#tr" x="1976.7" y="1580.6"/><use href="#tr" x="1983.4" y="1580.6"/><use href="#tr" x="1990.1" y="1580.6"/><use href="#tr" x="1996.8" y="1580.6"/><use href="#tr" x="2003.5" y="1580.6"/><use href="#tr" x="2010.2" y="1580.6"/><use href="#tr" x="2017" y="1580.6"/><use href="#tr" x="2023.7" y="1580.6"/><use href="#tr" x="2030.4" y="1580.6"/><use href="#tr" x="2037.1" y="1580.6"/><use href="#tr" x="2043.8" y="1580.6"/><use href="#tr" x="2050.6" y="1580.6"/><use href="#tr" x="2057.3" y="1580.6"/><use href="#tr" x="2064" y="1580.6"/><use href="#tr" x="2070.7" y="1580.6"/><use href="#tr" x="2077.4" y="1580.6"/><use href="#tr" x="2084.1" y="1580.6"/><use href="#tr" x="2090.9" y="1580.6"/><use href="#tr" x="2097.6" y="1580.6"/><use href="#tr" x="2104.3" y="1580.6"/><use href="#tr" x="2111" y="1580.6"/><use href="#tr" x="2117.7" y="1580.6"/><use href="#tr" x="2124.4" y="1580.6"/><use href="#tr" x="2131.2" y="1580.6"/><use href="#tr" x="2137.9" y="1580.6"/><use href="#tr" x="2144.6" y="1580.6"/><use href="#tr" x="2151.3" y="1580.6"/><use href="#tr" x="2158" y="1580.6"/><use href="#tr" x="2164.7" y="1580.6"/><use href="#tr" x="2171.4" y="1580.6"/><use href="#tr" x="2178.2" y="1580.6"/><use href="#tr" x="2184.9" y="1580.6"/><use href="#tr" x="2191.6" y="1580.6"/><use href="#tr" x="2198.3" y="1580.6"/><use href="#tr" x="2205" y="1580.6"/><use href="#tr" x="2211.8" y="1580.6"/><use href="#tr" x="2218.5" y="1580.6"/><use href="#tr" x="2225.2" y="1580.6"/><use href="#tr" x="2231.9" y="1580.6"/><use href="#tr" x="2238.6" y="1580.6"/><use href="#tr" x="2245.3" y="1580.6"/><use href="#tr" x="2252.1" y="1580.6"/><use href="#tr" x="2258.8" y="1580.6"/><use href="#tr" x="2265.5" y="1580.6"/><use href="#tr" x="2272.2" y="1580.6"/><use href="#tr" x="2278.9" y="1580.6"/><use href="#tr" x="2285.6" y="1580.6"/><use href="#tr" x="2292.4" y="1580.6"/><use href="#tr" x="2299.1" y="1580.6"/><use href="#tr" x="2305.8" y="1580.6"/><use href="#tr" x="2312.5" y="1580.6"/></g>
</g>
<path d="M362.2 130.8 H417 M468.9 130.8 H525" stroke="#000" stroke-width="4.1" fill="none"/><use href="#ci" x="443.3" y="130.8"/>
<path d="M362.2 224.2 H417 M468.9 224.2 H525" stroke="#000" stroke-width="4.1" fill="none"/><use href="#sq" x="443.3" y="224.2"/>
<path d="M362.2 317 H417 M468.9 317 H525" stroke="#000" stroke-width="4.1" fill="none"/><use href="#trl" x="443.3" y="317"/>
<text transform="translate(542.4 156) scale(1 1.1)" font-size="72" word-spacing="-3.1" stroke="#000" stroke-width="0.7">Sensor 1- MWCNTs</text>
<text transform="translate(542.4 250.1) scale(1 1.1)" font-size="72" word-spacing="-3.1" stroke="#000" stroke-width="0.7">Sensor 2- N-MWCNTs</text>
<text transform="translate(542.4 342.9) scale(1 1.1)" font-size="72" word-spacing="-3.1" stroke="#000" stroke-width="0.7">Sensor 3 -B-MWCNTs</text>
<text transform="translate(214.6 1608.8) scale(1.0200 1.0470)" font-size="96">0</text>
<text transform="translate(162.9 1113.2) scale(1.0200 1.0470)" font-size="96" letter-spacing="-3.39">20</text>
<text transform="translate(163.3 617.6) scale(1.0200 1.0470)" font-size="96" letter-spacing="-2.67">40</text>
<text transform="translate(162.6 122) scale(1.0200 1.0470)" font-size="96" letter-spacing="-2.51">60</text>
<text transform="translate(271.7 1752.7) scale(1.0200 1.0470)" font-size="96">0</text>
<text transform="translate(582.7 1752.7) scale(1.0200 1.0470)" font-size="96" letter-spacing="-4.00">50</text>
<text transform="translate(894 1752.7) scale(1.0200 1.0470)" font-size="96" letter-spacing="-4.30">100</text>
<text transform="translate(1230.9 1752.7) scale(1.0200 1.0470)" font-size="96" letter-spacing="-5.04">150</text>
<text transform="translate(1561.3 1752.7) scale(1.0200 1.0470)" font-size="96" letter-spacing="-2.66">200</text>
<text transform="translate(1897.8 1752.7) scale(1.0200 1.0470)" font-size="96" letter-spacing="-3.05">250</text>
<text transform="translate(2236.2 1752.7) scale(1.0200 1.0470)" font-size="96" letter-spacing="-3.61">300</text>
<text transform="translate(0 1921.7)" font-size="106.6"><tspan x="1217.3" font-size="117.5" textLength="30.2" lengthAdjust="spacingAndGlyphs">t</tspan><tspan x="1244.3" textLength="152" lengthAdjust="spacingAndGlyphs"> (s)</tspan></text>
<text transform="translate(97.9 1047.7) rotate(-90)" font-size="104"><tspan x="-5.4" font-size="114.9" textLength="87.3" lengthAdjust="spacingAndGlyphs">G</tspan><tspan x="82" font-size="95.1" textLength="28.2" lengthAdjust="spacingAndGlyphs">(</tspan><tspan x="110.2" font-size="96.7" textLength="62.5" lengthAdjust="spacingAndGlyphs">µ</tspan><tspan x="171.9" font-size="114.9" textLength="71.9" lengthAdjust="spacingAndGlyphs">S</tspan><tspan x="247.2" font-size="95.1" textLength="28.7" lengthAdjust="spacingAndGlyphs">)</tspan></text>
</svg>
</body></html>
